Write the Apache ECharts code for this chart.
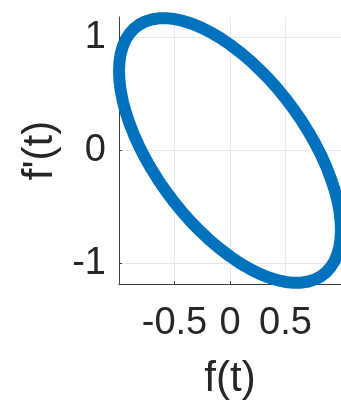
<!DOCTYPE html>
<html>
<head>
<meta charset="utf-8">
<script src="https://cdn.jsdelivr.net/npm/echarts@6/dist/echarts.min.js"></script>
<style>
  html, body { margin: 0; padding: 0; background: #ffffff; }
  #chart { width: 341px; height: 405px; }
</style>
</head>
<body>
<div id="chart"></div>
<script>
// Phase portrait: f(t) against f'(t), one closed orbit sampled densely
// (the last point repeats the first so the loop closes).
const fx = [
   1.000,  0.996,  0.985,  0.966,  0.940,  0.906,  0.866,  0.819,  0.766,  0.707,  0.643,  0.574,
   0.500,  0.423,  0.342,  0.259,  0.174,  0.087,  0.000, -0.087, -0.174, -0.259, -0.342, -0.423,
  -0.500, -0.574, -0.643, -0.707, -0.766, -0.819, -0.866, -0.906, -0.940, -0.966, -0.985, -0.996,
  -1.000, -0.996, -0.985, -0.966, -0.940, -0.906, -0.866, -0.819, -0.766, -0.707, -0.643, -0.574,
  -0.500, -0.423, -0.342, -0.259, -0.174, -0.087,  0.000,  0.087,  0.174,  0.259,  0.342,  0.423,
   0.500,  0.574,  0.643,  0.707,  0.766,  0.819,  0.866,  0.906,  0.940,  0.966,  0.985,  0.996,
   1.000
];
const dfx = [
  -0.702, -0.781, -0.854, -0.920, -0.980, -1.032, -1.076, -1.112, -1.139, -1.158, -1.168, -1.170,
  -1.162, -1.145, -1.120, -1.086, -1.044, -0.994, -0.936, -0.871, -0.800, -0.722, -0.640, -0.552,
  -0.460, -0.364, -0.266, -0.165, -0.064,  0.038,  0.140,  0.241,  0.340,  0.436,  0.529,  0.618,
   0.702,  0.781,  0.854,  0.920,  0.980,  1.032,  1.076,  1.112,  1.139,  1.158,  1.168,  1.170,
   1.162,  1.145,  1.120,  1.086,  1.044,  0.994,  0.936,  0.871,  0.800,  0.722,  0.640,  0.552,
   0.460,  0.364,  0.266,  0.165,  0.064, -0.038, -0.140, -0.241, -0.340, -0.436, -0.529, -0.618,
  -0.702
];

const xTicks = [-0.5, 0, 0.5];
const yTicks = [-1, 0, 1];

const FONT = 'Liberation Sans';
const TEXT = '#262626';
const AXIS = '#404040';
const GRID = '#e8e8e8';

const chart = echarts.init(document.getElementById('chart'), null, { renderer: 'canvas' });

chart.setOption({
  animation: false,
  backgroundColor: '#ffffff',
  grid: { left: 119, right: -6, top: 17, bottom: 118, containLabel: false },
  xAxis: {
    type: 'value',
    min: -1,
    max: 1,
    name: 'f(t)',
    nameLocation: 'middle',
    nameGap: 74,
    nameTextStyle: { fontFamily: FONT, fontSize: 42, color: TEXT, lineHeight: 42 },
    axisLine: { show: true, onZero: false, lineStyle: { color: AXIS, width: 1 } },
    axisTick: { show: true, inside: true, length: 3, customValues: xTicks, lineStyle: { color: AXIS } },
    axisLabel: {
      customValues: xTicks,
      margin: 21,
      fontFamily: FONT, fontSize: 38, color: TEXT, lineHeight: 38,
      formatter: v => String(v)
    },
    splitLine: { show: true, lineStyle: { color: GRID, width: 1 } }
  },
  yAxis: {
    type: 'value',
    min: -1.18,
    max: 1.18,
    name: "f'(t)",
    nameLocation: 'middle',
    nameGap: 48,
    nameRotate: 90,
    nameTextStyle: { fontFamily: FONT, fontSize: 42, color: TEXT, lineHeight: 42 },
    axisLine: { show: true, onZero: false, lineStyle: { color: AXIS, width: 1 } },
    axisTick: { show: true, inside: true, length: 3, customValues: yTicks, lineStyle: { color: AXIS } },
    axisLabel: {
      customValues: yTicks,
      margin: 13,
      fontFamily: FONT, fontSize: 38, color: TEXT, lineHeight: 38,
      formatter: v => String(v)
    },
    splitLine: { show: true, lineStyle: { color: GRID, width: 1 } }
  },
  series: [{
    type: 'line',
    data: fx.map((x, i) => [x, dfx[i]]),
    smooth: false,
    symbol: 'none',
    clip: false,
    lineStyle: { color: '#0072BD', width: 12, cap: 'round', join: 'round' }
  }]
});
</script>
</body>
</html>
